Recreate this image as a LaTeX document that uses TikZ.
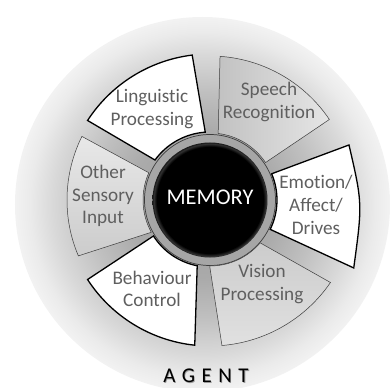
\documentclass[tikz,border=0pt]{standalone}
\usepackage{fontspec}
\setmainfont{Carlito}[Ligatures=NoCommon]
\definecolor{labelgray}{RGB}{95,95,95}
\definecolor{ringgray}{RGB}{166,166,166}
\definecolor{edgegray}{RGB}{60,60,60}
\pgfdeclareradialshading{agentbg}{\pgfpoint{0bp}{0bp}}{color(0bp)=(black!40); color(10bp)=(black!33); color(15bp)=(black!25); color(20bp)=(black!15); color(23bp)=(black!8); color(25bp)=(black!5); color(50bp)=(black!5)}
\pgfdeclareradialshading{memshade}{\pgfpoint{0bp}{0bp}}{color(0bp)=(black); color(23.2bp)=(black); color(24.5bp)=(black!80); color(25bp)=(black!90); color(50bp)=(black!90)}
\tikzset{
  whiteseg/.style={draw=black, line width=1.3pt, fill=white, line join=miter},
  greyseg/.style={draw=edgegray, line width=0.5pt},
  seglabel/.style={text=labelgray, align=center, font=\fontsize{19.2}{22.8}\selectfont, inner sep=0pt},
  agentfont/.style={font=\fontsize{21}{24}\selectfont, inner sep=0pt},
}
\begin{document}
\begin{tikzpicture}[x=1pt,y=1pt]
\useasboundingbox (-210,-188) rectangle (181,200);
% agent background
\shade[shading=agentbg] (-7.5,-4.5) circle[radius=187.5pt];
% memory ring
\path[draw=edgegray, line width=0.7pt, fill=ringgray] (0,0) circle[radius=65.5pt];
% segments
\path[greyseg, left color=black!24, right color=black!10]
  (34:67pt) -- (34:144pt) arc[start angle=34, end angle=86, radius=144pt]
  -- (83:67pt) arc[start angle=83, end angle=34, radius=67pt] -- cycle;
\path[whiteseg]
  (94:68pt) -- (97:146pt) arc[start angle=97, end angle=147, radius=146pt]
  -- (144:68pt) arc[start angle=144, end angle=94, radius=68pt] -- cycle;
\path[greyseg, top color=black!9, bottom color=black!20]
  (156:67pt) -- (153.6:143pt) arc[start angle=153.6, end angle=203, radius=143pt]
  -- (208.8:67pt) arc[start angle=208.8, end angle=156, radius=67pt] -- cycle;
\path[whiteseg]
  (212.5:68pt) -- (213:146pt) arc[start angle=213, end angle=264, radius=146pt]
  -- (259:67pt) arc[start angle=259, end angle=212.5, radius=67pt] -- cycle;
\path[greyseg, top color=black!20, bottom color=black!12]
  (270:68pt) -- (274.7:146pt) arc[start angle=274.7, end angle=325.6, radius=146pt]
  -- (319.5:66pt) arc[start angle=319.5, end angle=270, radius=66pt] -- cycle;
\path[whiteseg]
  (23:68pt) -- (21.6:149.5pt) .. controls (152.5,-3.5) .. (-25.3:159pt)
  -- (-26:67pt) arc[start angle=-26, end angle=23, radius=67pt] -- cycle;
% memory
\shade[shading=memshade] (0,0) circle[radius=57.5pt];
\node[text=white, font=\fontsize{22.4}{26}\selectfont] (memory) at (0,2.5) {MEMORY};
% labels
\node[seglabel] (ling) at (-58,91) {Linguistic\\Processing};
\node[seglabel] (speech) at (59,98) {Speech\\Recognition};
\node[seglabel] (emo) at (106,-5) {Emotion/\\Affect/\\Drives};
\node[seglabel] (vision) at (52,-84) {Vision\\Processing};
\node[seglabel] (behav) at (-58,-89) {Behaviour\\Control};
\node[seglabel] (other) at (-107,4) {Other\\Sensory\\Input};
% agent
\node[agentfont, text=black!40] (agentshadow) at (-3.2,-176.8) {A\kern6.5pt G\kern6.5pt E\kern6.5pt N\kern6.5pt T};
\node[agentfont, text=black] (agent) at (-4,-176) {A\kern6.5pt G\kern6.5pt E\kern6.5pt N\kern6.5pt T};
\end{tikzpicture}
\end{document}
